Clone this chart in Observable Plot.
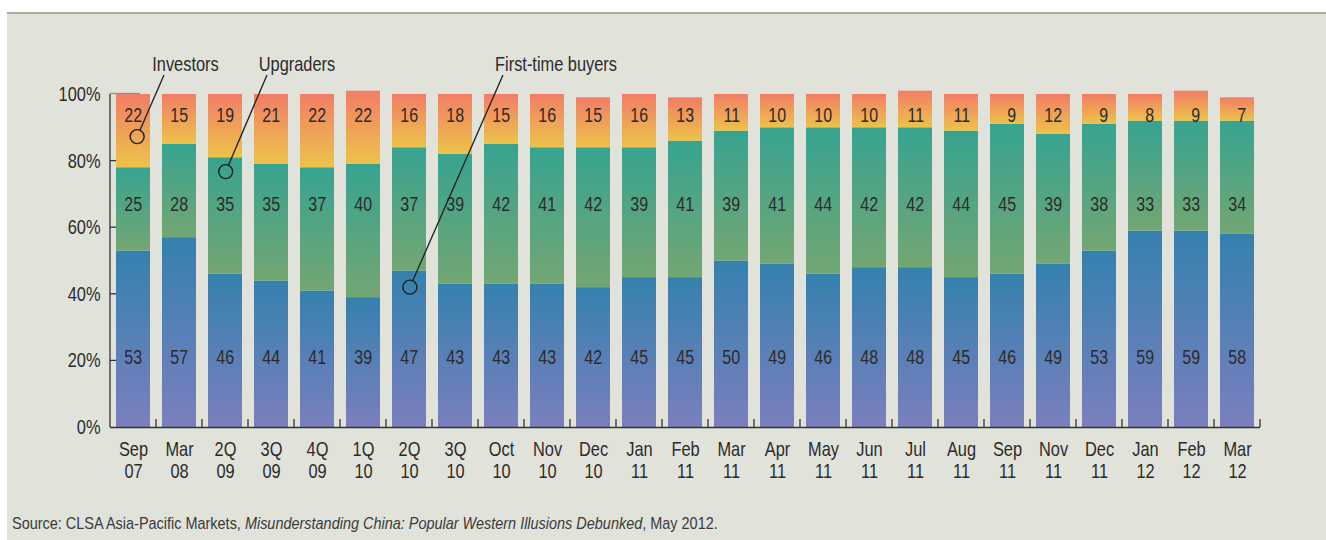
<!DOCTYPE html>
<html><head><meta charset="utf-8">
<script src="https://cdn.jsdelivr.net/npm/d3@7"></script>
<script src="https://cdn.jsdelivr.net/npm/@observablehq/plot@0.6"></script>
<style>
html,body{margin:0;padding:0;background:#fff;}
#wrap{position:relative;width:1326px;height:540px;overflow:hidden;font-family:'Liberation Sans',Arial,sans-serif;}
#panel{position:absolute;left:7px;top:12px;right:0;bottom:0;background:#e1e3db;border-top:2px solid #a9ac9e;}
#chart{position:absolute;left:0;top:0;}
#source{position:absolute;left:12px;top:515px;font-size:17px;line-height:17px;color:#3a3a3a;white-space:nowrap;transform:scaleX(0.85);transform-origin:0 0;}
</style></head><body>
<div id="wrap"><div id="panel"></div><div id="chart"></div><div id="source">Source: CLSA Asia-Pacific Markets, <i>Misunderstanding China: Popular Western Illusions Debunked</i>, May 2012.</div></div>
<script>
const dates = ["Sep 07","Mar 08","2Q 09","3Q 09","4Q 09","1Q 10","2Q 10","3Q 10","Oct 10","Nov 10","Dec 10","Jan 11","Feb 11","Mar 11","Apr 11","May 11","Jun 11","Jul 11","Aug 11","Sep 11","Nov 11","Dec 11","Jan 12","Feb 12","Mar 12"];
const firstTimeBuyers = [53,57,46,44,41,39,47,43,43,43,42,45,45,50,49,46,48,48,45,46,49,53,59,59,58];
const upgraders = [25,28,35,35,37,40,37,39,42,41,42,39,41,39,41,44,42,42,44,45,39,38,33,33,34];
const investors = [22,15,19,21,22,22,16,18,15,16,15,16,13,11,10,10,10,11,11,9,12,9,8,9,7];
const seriesNames = ["First-time buyers","Upgraders","Investors"];
const yTicks = [0,20,40,60,80,100];
// annotation anchors: fractional bar index and value
const annotations = [
  {label:"Investors", at:0.09, value:87.2, end:0.674, endValue:105.7, textAt:1.141, textValue:106.9},
  {label:"Upgraders", at:2.015, value:76.7, end:2.913, endValue:105.7, textAt:3.565, textValue:106.9},
  {label:"First-time buyers", at:6.02, value:42.0, end:8.043, endValue:105.7, textAt:9.196, textValue:107.0}
];

const data = [];
dates.forEach((d,i)=>{
  data.push({date:d, series:seriesNames[0], value:firstTimeBuyers[i]});
  data.push({date:d, series:seriesNames[1], value:upgraders[i]});
  data.push({date:d, series:seriesNames[2], value:investors[i]});
});
const FONT = "'Liberation Sans',Arial,sans-serif";
const TXT = "#2b2b2b";
const NARROW = 0.82;
const labelOpts = {x:"date", text:d=>String(d.value), textAnchor:"end", dx:8.6, fontSize:19.5, fill:TXT};

const chart = Plot.plot({
  width:1326, height:490,
  marginLeft:110, marginRight:66, marginTop:94, marginBottom:63,
  style:{background:"transparent", fontFamily:FONT, fontSize:"20px", color:TXT, overflow:"visible"},
  x:{type:"band", domain:dates, paddingInner:12/46, paddingOuter:6/46, align:0.5, axis:null},
  y:{domain:[0,100], axis:null},
  color:{domain:seriesNames, range:["url(#gFirst)","url(#gUp)","url(#gInv)"]},
  marks:[
    Plot.barY(data, {x:"date", y:"value", fill:"series"}),
    Plot.text(data.filter(d=>d.series==="Investors"), {...labelOpts, frameAnchor:"top", dy:14}),
    Plot.text(data.filter(d=>d.series==="Upgraders"), {...labelOpts, frameAnchor:"top", dy:103}),
    Plot.text(data.filter(d=>d.series==="First-time buyers"), {...labelOpts, frameAnchor:"bottom", dy:-64}),
    Plot.ruleY([0], {stroke:"#333", strokeWidth:1.3}),
    Plot.text(yTicks, {y:d=>d, text:d=>d+"%", frameAnchor:"left", textAnchor:"end", dx:-10, fontSize:20, fill:TXT}),
    Plot.text(dates, {x:d=>d, text:d=>d.split(" ")[0], frameAnchor:"bottom", lineAnchor:"bottom", dy:28, fontSize:20, fill:TXT}),
    Plot.text(dates, {x:d=>d, text:d=>d.split(" ")[1], frameAnchor:"bottom", lineAnchor:"bottom", dy:50, fontSize:20, fill:TXT})
  ]
});
document.getElementById("chart").appendChild(chart);

const svg = d3.select(chart);

// condense Plot's text horizontally around its anchor (narrow face emulation)
svg.selectAll("text").each(function(){
  const el = d3.select(this);
  const t = el.attr("transform");
  if (t) el.attr("transform", `${t} scale(${NARROW},1)`);
});

const defs = svg.insert("defs", ":first-child");
[["gFirst","#3481ae","#7b7fbe"],["gUp","#37a390","#73a673"],["gInv","#f27d67","#ecc349"]].forEach(([id,a,b])=>{
  const g = defs.append("linearGradient").attr("id",id).attr("x1",0).attr("y1",0).attr("x2",0).attr("y2",1);
  g.append("stop").attr("offset","0%").attr("stop-color",a);
  g.append("stop").attr("offset","100%").attr("stop-color",b);
});

const xs = chart.scale("x"), ys = chart.scale("y");
const y = d3.scaleLinear(ys.domain, ys.range);
const pi = xs.paddingInner ?? xs.padding ?? 12/46;
const po = xs.paddingOuter ?? xs.padding ?? 6/46;
const xb = d3.scaleBand(xs.domain, xs.range).paddingInner(pi).paddingOuter(po).align(xs.align ?? 0.5).round(!!xs.round);
const step = xb.step(), bw = xb.bandwidth();
const cx = f => xb(dates[0]) + bw/2 + f*step;
const left = xs.range[0];

const deco = svg.append("g").attr("stroke","#333").attr("stroke-width",1.3);
deco.append("line").attr("x1",left).attr("x2",left).attr("y1",y(0)).attr("y2",y(100));
[20,40,60,80].forEach(t=>deco.append("line").attr("x1",left).attr("x2",left+6).attr("y1",y(t)).attr("y2",y(t)));
deco.append("line").attr("x1",left).attr("x2",left+30).attr("y1",y(100)-0.5).attr("y2",y(100)-0.5).attr("stroke","#8d8f88");
dates.forEach(d=>{
  const xx = xb(d)+bw/2+step/2;
  deco.append("line").attr("x1",xx).attr("x2",xx).attr("y1",y(0)).attr("y2",y(0)-8);
});

const ann = svg.append("g");
const R = 7;
annotations.forEach(a=>{
  const px = cx(a.at), py = y(a.value), ex = cx(a.end), ey = y(a.endValue);
  const dx = ex-px, dy = ey-py, L = Math.hypot(dx,dy);
  ann.append("line").attr("x1",px+dx/L*R).attr("y1",py+dy/L*R).attr("x2",ex).attr("y2",ey)
     .attr("stroke","#1e1e1e").attr("stroke-width",1.3);
  ann.append("circle").attr("cx",px).attr("cy",py).attr("r",R).attr("fill","none")
     .attr("stroke","#1e1e1e").attr("stroke-width",1.4);
  ann.append("text").attr("transform",`translate(${cx(a.textAt)},${y(a.textValue)}) scale(${NARROW},1)`)
     .attr("text-anchor","middle").attr("font-size",20).attr("fill",TXT).text(a.label);
});
</script></body></html>
